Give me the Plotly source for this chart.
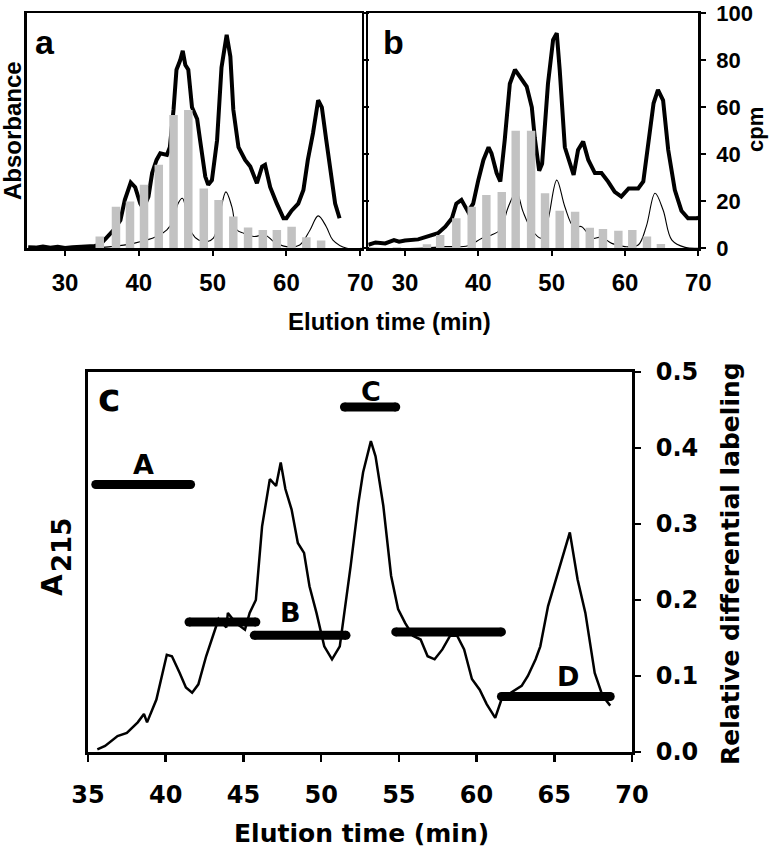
import plotly.graph_objects as go

# ---------------- data ----------------
# Panel a
xa_abs = [25, 26, 27, 28, 29, 30, 31, 32, 33, 34, 34.7, 35.6, 36.6, 37.5, 38.1, 38.9, 39.5, 40.2, 40.6, 41.3,
          41.8, 42.4, 42.9, 43.8, 44.2, 44.7, 45.1, 45.6, 45.95, 46.3, 46.7, 47.2, 47.9, 48.3, 49.0, 49.4,
          49.9, 50.6, 51.2, 51.9, 52.4, 52.8, 53.5, 54.4, 55.1, 56.0, 56.7, 57.1, 57.8, 58.7, 59.6, 60.0,
          60.7, 61.6, 62.3, 62.9, 63.6, 64.3, 64.8, 65.4, 66.1, 66.6, 67.2]
ya_abs = [0.5, 0.3, 0.8, 0.2, 0.6, 0.1, 0.4, 0.5, 0.9, 1.0, 1.4, 4.3, 7.8, 12, 20.6, 28, 26, 19, 17, 22,
          32, 37.6, 40.4, 39.7, 43, 59, 76, 80, 84, 78, 76, 60, 55, 46, 30.5, 27,
          29, 46, 77, 90.8, 81.6, 59, 43, 37.6, 34.8, 27.7, 34.8, 35.5, 26, 19, 12.8, 12.8,
          16, 19, 24.8, 37.6, 49, 63, 60, 46, 29, 19, 12.8]
xa_thin = [33, 34.7, 37, 39.3, 42.4, 43.8, 44.7, 45.3, 45.9, 46.5, 47.2, 48.1, 49.2, 50.1, 51.0, 51.8,
           52.6, 53.3, 54.2, 55.6, 57.1, 58.3, 60.0, 61.8, 63.2, 64.3, 65.4, 66.3, 68.2, 70.2]
ya_thin = [0, 0.3, 1.0, 2.1, 5, 7.8, 12, 19, 21.3, 15, 6.4, 3.5, 2.8, 4.3, 15, 24,
           17.7, 7.8, 6.4, 5, 5.7, 2.8, 0.7, 1.4, 7.8, 13.8, 9.2, 3.5, 0, 0]
xa_bar = [34.7, 36.9, 38.8, 40.7, 42.7, 44.7, 46.7, 48.8, 50.8, 52.8, 54.8, 56.8, 58.7, 60.7, 62.7, 64.7]
ya_bar = [5, 17.7, 19.9, 27, 35.5, 56.7, 58.9, 25.5, 20.6, 13.5, 8.9, 7.8, 7.8, 9.2, 4.7, 3.3]

# Panel b
xb_abs = [25, 26, 27.3, 28.5, 29.2, 30, 31.8, 33.2, 34.5, 35.5, 36.4, 37.0, 37.7, 38.6, 39.3, 40, 40.7,
          41.4, 41.8, 42.5, 43.0, 43.6, 44.3, 45.0, 45.9, 46.6, 47.3, 47.7, 48.3, 48.7, 49.5, 50.2,
          50.7, 51.1, 51.8, 53.0, 53.6, 54.3, 55.0, 55.9, 56.8, 57.7, 58.6, 59.5, 60.5, 61.8, 62.5,
          63.2, 63.9, 64.5, 65.2, 65.9, 66.8, 67.7, 68.6, 69.8, 70]
yb_abs = [1.5, 2.5, 2.1, 3.5, 2.8, 3.3, 3.8, 5, 6.4, 9.2, 12.8, 19, 20.6, 15.6, 19, 29, 37.6,
          43, 40.4, 32, 28.4, 46, 70, 76, 71.6, 68.8, 60, 47, 33, 36, 70, 88.7,
          91.5, 76, 43, 31.2, 41.8, 45.4, 37.6, 32, 32, 28.4, 24, 22, 25.5, 25.5, 28.4,
          46, 61.7, 67.4, 63, 41.8, 24.8, 16, 12.8, 12.8, 13]
xb_thin = [25, 31.8, 35.5, 38.6, 40.5, 41.8, 43.0, 44.1, 45.2, 46.1, 47.3, 48.6, 49.5, 50.7, 51.8,
           53.0, 54.1, 55.5, 56.8, 58.2, 60, 61.8, 62.9, 64.1, 65.2, 66.4, 68.2, 70]
yb_thin = [0, 0, 0.7, 1.1, 4.3, 5.7, 7.8, 17.7, 24, 15.6, 7.8, 4.3, 12, 29, 17.7,
           9.2, 9.2, 4.3, 4.7, 2.1, 0.7, 1.4, 9.2, 23.4, 16.3, 3.5, 0.4, 0]
xb_bar = [28.9, 33.0, 34.8, 37.0, 39.1, 41.1, 43.2, 45.1, 47.2, 49.1, 51.1, 53.2, 55.2, 57.0, 59.1,
          61.0, 63.0, 64.9]
yb_bar = [0.5, 1.7, 5.7, 12.8, 17.7, 22.7, 24, 50, 50, 23.4, 16, 15.6, 8.7, 8.2, 7.5, 7.8, 5, 1.8]

# Panel c
xc = [35.6, 36.1, 36.9, 37.5, 38.2, 38.6, 38.8, 39.4, 40.07, 40.4, 40.9, 41.3, 41.7, 42.1, 42.6, 43.1,
      43.4, 43.9, 44.0, 44.5, 45.1, 45.4, 45.8, 46.2, 46.7, 47.1, 47.4, 47.7, 48.1, 48.5, 48.9, 49.25,
      49.7, 50.2, 50.7, 51.2, 51.5, 51.9, 52.4, 52.7, 53.2, 53.5, 54.0, 54.5, 54.95, 55.4, 55.9, 56.4,
      56.85, 57.3, 57.8, 58.3, 58.75, 59.2, 59.7, 60.2, 60.65, 61.2, 61.6, 62.2, 62.9, 63.3, 63.8,
      64.1, 64.6, 65.1, 65.6, 66.0, 66.5, 67.0, 67.6, 68.1, 68.6]
yc = [0.0035, 0.008, 0.021, 0.025, 0.039, 0.05, 0.039, 0.069, 0.128, 0.126, 0.104, 0.085, 0.078, 0.089,
      0.126, 0.157, 0.175, 0.164, 0.183, 0.170, 0.161, 0.183, 0.2, 0.297, 0.359, 0.35, 0.381, 0.346,
      0.319, 0.275, 0.262, 0.218, 0.183, 0.139, 0.122, 0.139, 0.183, 0.245, 0.328, 0.368, 0.409, 0.389,
      0.324, 0.232, 0.188, 0.170, 0.153, 0.148, 0.126, 0.122, 0.135, 0.153, 0.153, 0.135, 0.096, 0.082,
      0.063, 0.045, 0.069, 0.078, 0.087, 0.1, 0.122, 0.139, 0.192, 0.227, 0.262, 0.289, 0.227, 0.183,
      0.104, 0.074, 0.061]
seg_x0 = [35.5, 41.5, 45.7, 51.5, 54.8, 61.6]
seg_x1 = [41.6, 45.8, 51.6, 54.8, 61.6, 68.6]
seg_y = [0.352, 0.171, 0.1535, 0.454, 0.158, 0.073]
seg_labels = ["A", "B", "C", "D"]
label_x = [38.6, 48.0, 53.2, 65.9]
label_y = [0.378, 0.183, 0.475, 0.099]

ticks_ab_x = [30, 40, 50, 60, 70]
ticks_ab_y = [0, 20, 40, 60, 80, 100]
ticks_c_x = [35, 40, 45, 50, 55, 60, 65, 70]
ticks_c_y = [0.0, 0.1, 0.2, 0.3, 0.4, 0.5]

# ---------------- styling helpers ----------------
W, H = 770, 853
FA = "Liberation Sans, Arial, sans-serif"
FC = "DejaVu Sans, sans-serif"
BAR = "#c2c2c2"


def px(x):
    return x / W


def py(y):
    return 1 - y / H


fig = go.Figure()

# panel a
fig.add_trace(go.Bar(x=xa_bar, y=ya_bar, width=1.15, marker=dict(color=BAR, line=dict(width=0)),
                     xaxis="x", yaxis="y2", showlegend=False))
fig.add_trace(go.Scatter(x=xa_thin, y=ya_thin, mode="lines", line=dict(color="black", width=1.1, shape="spline"),
                         xaxis="x", yaxis="y", showlegend=False))
fig.add_trace(go.Scatter(x=xa_abs, y=ya_abs, mode="lines", line=dict(color="black", width=4),
                         xaxis="x", yaxis="y", showlegend=False))
# panel b
fig.add_trace(go.Bar(x=xb_bar, y=yb_bar, width=1.15, marker=dict(color=BAR, line=dict(width=0)),
                     xaxis="x2", yaxis="y4", showlegend=False))
fig.add_trace(go.Scatter(x=xb_thin, y=yb_thin, mode="lines", line=dict(color="black", width=1.1, shape="spline"),
                         xaxis="x2", yaxis="y3", showlegend=False))
fig.add_trace(go.Scatter(x=xb_abs, y=yb_abs, mode="lines", line=dict(color="black", width=4),
                         xaxis="x2", yaxis="y3", showlegend=False))
# panel c
fig.add_trace(go.Scatter(x=xc, y=yc, mode="lines", line=dict(color="black", width=2.5),
                         xaxis="x3", yaxis="y5", showlegend=False))
for x0, x1, yv in zip(seg_x0, seg_x1, seg_y):
    fig.add_trace(go.Scatter(x=[x0, x1], y=[yv, yv], mode="lines+markers",
                             line=dict(color="black", width=9),
                             marker=dict(color="black", size=9),
                             xaxis="x3", yaxis="y6", showlegend=False))

AB_Y = [py(248.3), py(13.3)]
C_Y = [py(752), py(372)]

xa_common = dict(showgrid=False, zeroline=False, showline=True, linecolor="black", linewidth=2.5,
                 mirror=True, ticks="outside", ticklen=5, tickwidth=2, tickcolor="black",
                 tickvals=ticks_ab_x, ticklabelstandoff=6, automargin=False,
                 tickfont=dict(family=FA, size=24, color="black", weight="bold"))
ya_left = dict(showgrid=False, zeroline=False, showline=True, linecolor="black", linewidth=2.5,
               showticklabels=False, ticks="", range=[0, 100], domain=AB_Y, automargin=False)
ya_right = dict(showgrid=False, zeroline=False, showline=True, linecolor="black", linewidth=2.5,
                side="right", range=[0, 100], tickvals=ticks_ab_y, ticks="outside", ticklen=5,
                tickwidth=2, tickcolor="black", automargin=False,
                tickfont=dict(family=FA, size=22, color="black", weight="bold"))

fig.update_layout(
    width=W, height=H, margin=dict(l=0, r=0, t=0, b=0, autoexpand=False),
    paper_bgcolor="white", plot_bgcolor="white", barmode="overlay", hovermode=False,
    xaxis=dict(domain=[px(26.7), px(361.7)], range=[24.8, 70.2], anchor="y", **xa_common),
    yaxis=dict(anchor="x", **ya_left),
    yaxis2=dict(anchor="x", overlaying="y", showticklabels=False, **ya_right),
    xaxis2=dict(domain=[px(368.3), px(698.3)], range=[25, 70], anchor="y3", **xa_common),
    yaxis3=dict(anchor="x2", **ya_left),
    yaxis4=dict(anchor="x2", overlaying="y3", showticklabels=True, ticklabelstandoff=6, **ya_right),
    xaxis3=dict(domain=[px(88), px(632)], range=[35, 70], anchor="y5", showgrid=False, zeroline=False,
                showline=True, linecolor="black", linewidth=3, mirror=True, ticks="outside", ticklen=7,
                tickwidth=2.5, tickcolor="black", tickvals=ticks_c_x, ticklabelstandoff=12,
                automargin=False,
                tickfont=dict(family=FC, size=24, color="black", weight="bold")),
    yaxis5=dict(anchor="x3", domain=C_Y, range=[0, 0.5], showgrid=False, zeroline=False, showline=True,
                linecolor="black", linewidth=3, showticklabels=False, ticks="", automargin=False),
    yaxis6=dict(anchor="x3", overlaying="y5", side="right", range=[0, 0.5], showgrid=False,
                zeroline=False, showline=True, linecolor="black", linewidth=3, tickvals=ticks_c_y,
                tickformat=".1f", ticks="outside", ticklen=6, tickwidth=2.5, tickcolor="black",
                ticklabelstandoff=10, automargin=False,
                tickfont=dict(family=FC, size=24, color="black", weight="bold")),
)

ann = []


def add(text, x, y, size, family, angle=0, **kw):
    ann.append(dict(text=text, x=x, y=y, xref=kw.pop("xref", "paper"), yref=kw.pop("yref", "paper"),
                    showarrow=False, textangle=angle, xanchor="center", yanchor="middle",
                    font=dict(family=family, size=size, color="black", weight="bold"), **kw))


add("a", px(45), py(42), 34, FA)
add("b", px(393), py(42), 34, FA)
add("Absorbance", px(13), py(131), 24, FA, angle=-90)
add("cpm", px(756), py(130), 22, FA, angle=-90)
add("Elution time (min)", px(390), py(321), 24, FA)
add("c", px(109), py(398), 38, FC)
add("A", px(52), py(585), 28, FC, angle=-90)
add("215", px(62), py(545), 26, FC, angle=-90)
add("Relative differential labeling", px(730), py(564), 25, FC, angle=-90)
add("Elution time (min)", px(361), py(833), 25, FC)
for t, lx, ly in zip(seg_labels, label_x, label_y):
    add(t, lx, ly, 27, FC, xref="x3", yref="y6")

fig.update_layout(annotations=ann)
# remove the browser's default 8px page margin so the figure fills the window exactly
fig.write_html("out.html", config={"displayModeBar": False, "staticPlot": True},
               post_script="document.body.style.margin='0';document.body.style.overflow='hidden';")
